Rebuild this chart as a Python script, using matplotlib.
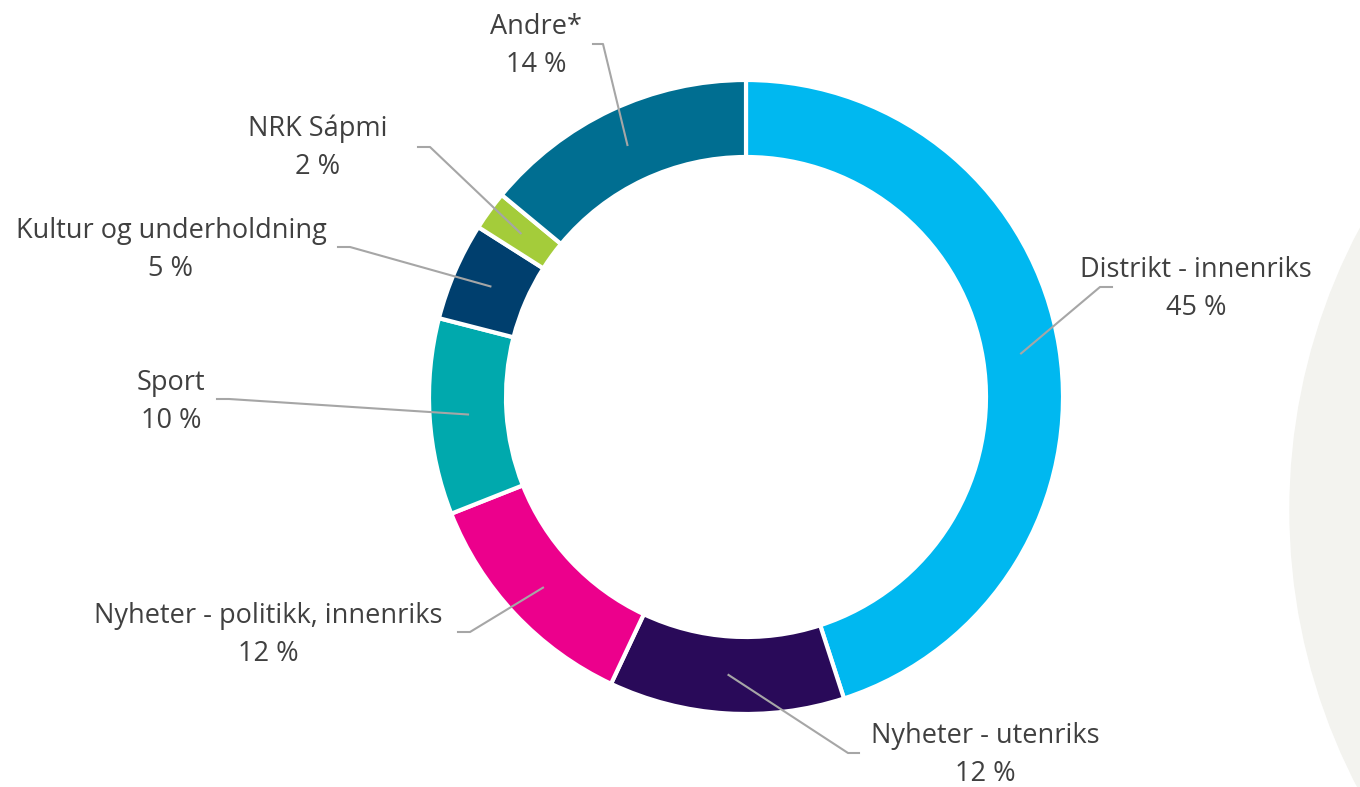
import numpy as np
import matplotlib.pyplot as plt
from matplotlib.patches import Circle

# data
categories = ['Distrikt - innenriks', 'Nyheter - utenriks', 'Nyheter - politikk, innenriks',
              'Sport', 'Kultur og underholdning', 'NRK Sápmi', 'Andre*']
shares = [45, 12, 12, 10, 5, 2, 14]
colors = ['#00b8f0', '#290a59', '#ec008c', '#00a9ad', '#003f6e', '#a4cc3a', '#006e91']

# layout (pixels): text centre, start of leader line, end of horizontal stub
text_pos = [(1196, 289), (985, 755), (268, 635), (171, 402), (171, 250), (318, 148), (536, 46)]
line_start = [(1112, 287), (859, 753), (458, 632), (217, 399), (338, 247), (418, 147), (593, 44)]
stub_end = [(1100, 287), (848, 753), (470, 632), (229, 399), (350, 247), (430, 147), (603, 44)]

cx, cy, R, r_in = 746, 397, 317, 240

fig = plt.figure(figsize=(13.6, 7.87), dpi=100)
ax = fig.add_axes([0, 0, 1, 1])

# faint background shape on the right
ax.add_patch(Circle((1890, 510), 600, color='#f3f3ef', zorder=0))

wedges, _ = ax.pie(shares, colors=colors, startangle=-90, counterclock=True,
                   center=(cx, cy), radius=R, frame=True,
                   wedgeprops=dict(width=R - r_in, edgecolor='white', linewidth=3))
ax.set_xlim(0, 1360)
ax.set_ylim(787, 0)
ax.axis('off')
ax.set_aspect('equal')

rm = (R + r_in) / 2
cum = np.cumsum([0] + shares[:-1])
for i, name in enumerate(categories):
    mid = (cum[i] + shares[i] / 2) / sum(shares) * 2 * np.pi
    ex = cx + rm * np.sin(mid)
    ey = cy - rm * np.cos(mid)
    xs = [line_start[i][0], stub_end[i][0], ex]
    ys = [line_start[i][1], stub_end[i][1], ey]
    ax.plot(xs, ys, color='#a6a6a6', lw=1.5, zorder=5)
    ax.text(text_pos[i][0], text_pos[i][1], f'{name}\n{shares[i]} %', ha='center', va='center',
            fontsize=19.5, family='Open Sans', color='#404040', linespacing=1.5)

fig.savefig('out.png', dpi=100)
